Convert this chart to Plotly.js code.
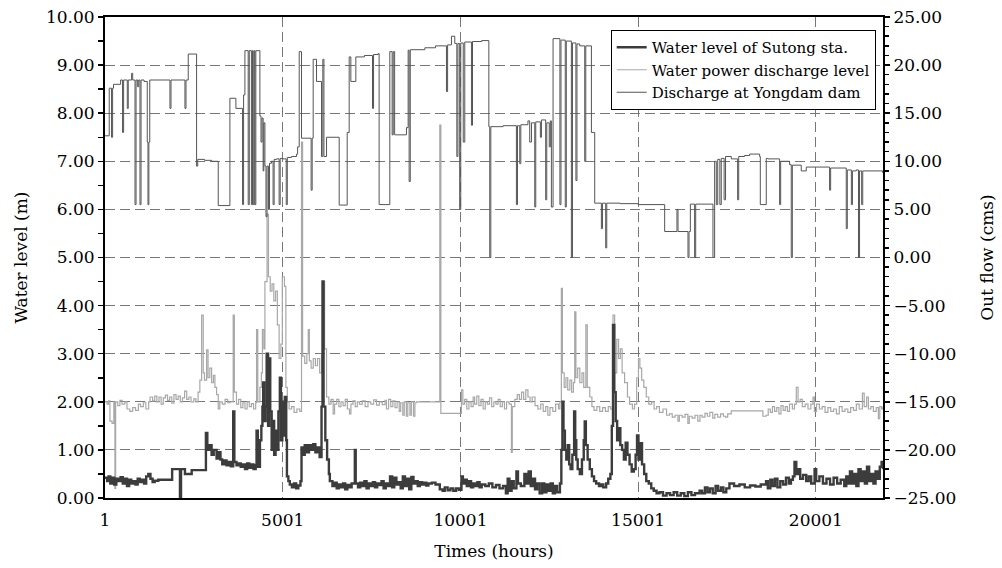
<!DOCTYPE html>
<html>
<head>
<meta charset="utf-8">
<script src="https://cdn.plot.ly/plotly-3.0.1.min.js"></script>
<style>html,body{margin:0;padding:0;background:#fff;}#chart{width:1002px;height:568px;}</style>
</head>
<body>
<div id="chart"></div>
<script>
// ---- Water level of Sutong sta. (m) ----
const hoursSutong = [1,60,100,150,200,260,320,380,440,500,560,620,680,740,800,860,920,980,1040,1100,1160,1220,1280,1340,1400,1500,1890,2110,2140,2250,2440,2812,2840,2880,2940,3000,3060,3140,3200,3250,3300,3360,3420,3480,3540,3608,3640,3700,3760,3820,3880,3940,4000,4060,4120,4180,4240,4265,4300,4360,4400,4430,4452,4480,4520,4550,4590,4620,4650,4690,4720,4760,4800,4840,4880,4920,4950,4990,5020,5060,5100,5120,5160,5200,5260,5320,5380,5440,5500,5530,5580,5620,5680,5740,5800,5860,5920,5980,6040,6093,6121,6150,6200,6250,6300,6327,6400,6460,6520,6580,6640,6700,6760,6820,6880,6940,7030,7055,7120,7180,7240,7300,7360,7420,7480,7540,7600,7660,7720,7780,7840,7900,7960,8020,8080,8140,8200,8260,8320,8380,8440,8500,8560,8620,8680,8740,8800,8860,8920,8980,9040,9100,9200,9300,9420,9500,9560,9640,9720,9800,9880,9960,10030,10070,10120,10180,10240,10300,10360,10420,10480,10540,10600,10700,10800,10900,11000,11100,11200,11280,11330,11380,11440,11500,11576,11620,11700,11800,11860,11920,11980,12040,12100,12160,12230,12300,12360,12420,12480,12540,12600,12660,12720,12800,12840,12870,12900,12940,12980,13020,13060,13100,13150,13200,13230,13260,13300,13360,13420,13470,13498,13530,13580,13640,13700,13760,13820,13900,13960,14020,14100,14160,14220,14260,14294,14330,14370,14410,14450,14500,14550,14600,14650,14700,14760,14820,14880,14930,14970,15010,15060,15110,15170,15230,15300,15370,15440,15520,15600,15700,15800,15900,16000,16100,16200,16300,16400,16500,16600,16730,16800,16880,16950,17020,17100,17180,17250,17330,17400,17480,17570,17700,17850,18000,18150,18300,18450,18600,18650,18720,18780,18850,18920,19000,19080,19160,19240,19300,19355,19400,19450,19500,19560,19640,19730,19800,19870,19965,20010,20100,20200,20300,20400,20500,20600,20700,20800,20856,20900,20960,21020,21080,21140,21200,21260,21320,21380,21440,21500,21560,21620,21680,21740,21800,21850,21890];
const levelSutong = [0.42,0.35,0.45,0.3,0.42,0.28,0.4,0.35,0.43,0.3,0.4,0.25,0.38,0.3,0.35,0.28,0.4,0.33,0.38,0.3,0.45,0.5,0.4,0.33,0.36,0.38,0.6,0.0,0.6,0.5,0.58,0.58,1.35,1.0,1.1,0.9,1.0,0.82,0.95,0.8,0.7,0.78,0.68,0.75,0.66,1.8,0.75,0.68,0.72,0.65,0.7,0.6,0.72,0.63,0.7,0.6,0.68,1.4,0.65,1.2,1.5,1.9,2.4,1.6,1.9,3.0,1.5,2.9,1.8,1.0,1.6,0.9,1.4,1.0,1.8,2.5,1.2,2.0,1.3,2.1,1.2,0.45,0.35,0.28,0.22,0.3,0.2,0.26,0.35,1.05,0.9,1.1,0.95,1.1,1.0,1.12,0.95,1.05,0.85,1.9,4.5,1.9,1.2,0.8,0.5,0.35,0.25,0.32,0.2,0.28,0.22,0.3,0.18,0.27,0.22,0.3,1.0,0.3,0.22,0.32,0.25,0.35,0.2,0.3,0.25,0.33,0.22,0.3,0.27,0.35,0.2,0.3,0.25,0.45,0.22,0.42,0.28,0.33,0.2,0.45,0.25,0.4,0.18,0.44,0.3,0.35,0.25,0.33,0.28,0.32,0.26,0.3,0.32,0.28,0.18,0.15,0.22,0.16,0.2,0.15,0.2,0.17,0.45,0.3,0.38,0.25,0.35,0.22,0.3,0.25,0.33,0.22,0.28,0.25,0.3,0.22,0.27,0.2,0.25,0.1,0.4,0.15,0.35,0.2,0.55,0.3,0.25,0.5,0.3,0.55,0.25,0.4,0.18,0.3,0.1,0.3,0.12,0.28,0.15,0.3,0.1,0.25,0.12,0.3,1.0,2.0,1.4,1.0,0.8,1.1,0.7,0.6,0.9,1.8,1.2,0.8,0.6,0.5,0.8,1.2,1.59,1.1,0.8,0.6,0.45,0.35,0.3,0.25,0.28,0.22,0.3,0.4,0.5,1.5,3.6,2.2,1.6,1.2,1.45,1.1,1.0,0.8,1.15,0.9,0.7,0.55,0.6,0.9,1.3,0.8,1.14,0.7,0.5,0.35,0.3,0.2,0.15,0.1,0.12,0.05,0.1,0.06,0.12,0.05,0.1,0.04,0.12,0.06,0.1,0.15,0.1,0.22,0.12,0.2,0.1,0.25,0.15,0.22,0.12,0.2,0.3,0.25,0.28,0.22,0.26,0.24,0.28,0.35,0.2,0.38,0.25,0.4,0.22,0.35,0.28,0.42,0.3,0.38,0.45,0.75,0.5,0.6,0.4,0.48,0.35,0.45,0.3,0.6,0.35,0.45,0.3,0.4,0.28,0.42,0.3,0.38,0.25,0.45,0.3,0.55,0.3,0.5,0.25,0.6,0.35,0.55,0.3,0.65,0.35,0.5,0.3,0.55,0.4,0.65,0.75,0.6];

// ---- Water power discharge level (m) ----
const hoursPower = [1,60,100,140,200,250,280,300,360,420,480,560,620,700,780,860,940,1000,1080,1150,1230,1270,1340,1400,1460,1520,1580,1640,1700,1760,1820,1880,1940,2000,2060,2120,2180,2240,2300,2360,2420,2500,2560,2620,2670,2720,2765,2800,2860,2900,2950,3000,3050,3093,3140,3187,3230,3300,3380,3450,3515,3608,3640,3700,3760,3820,3880,3940,4000,4060,4120,4180,4240,4265,4300,4359,4400,4430,4470,4500,4560,4600,4650,4700,4750,4800,4850,4900,4950,4990,5050,5090,5130,5180,5250,5320,5400,5480,5530,5560,5620,5680,5720,5750,5800,5860,5920,5980,6040,6093,6121,6180,6234,6300,6360,6420,6460,6520,6580,6640,6700,6760,6820,6880,6920,6980,7040,7100,7160,7240,7320,7400,7480,7560,7640,7720,7800,7880,7920,7980,8040,8100,8160,8220,8280,8320,8380,8420,8480,8520,8580,8620,8680,8720,8765,9420,9450,9982,10030,10070,10120,10180,10240,10300,10360,10400,10460,10520,10580,10640,10700,10760,10820,10880,10940,11000,11060,11120,11180,11240,11300,11370,11436,11460,11530,11600,11660,11720,11780,11840,11900,11960,12020,12100,12180,12260,12330,12400,12460,12520,12600,12680,12760,12800,12840,12870,12920,12970,13020,13080,13130,13180,13216,13250,13300,13360,13420,13470,13530,13570,13640,13700,13760,13840,13920,14000,14080,14160,14230,14294,14340,14400,14450,14500,14550,14620,14700,14760,14840,14900,14960,15010,15050,15100,15160,15230,15300,15380,15450,15520,15600,15700,15800,15880,15960,16040,16120,16160,16240,16320,16400,16440,16520,16600,16680,16740,16800,16880,16950,17020,17100,17160,17240,17320,17400,17460,17520,17620,18510,18600,18660,18720,18780,18840,18900,18960,19020,19080,19140,19200,19260,19340,19400,19450,19500,19560,19620,19700,19780,19860,19920,19960,20020,20100,20180,20260,20340,20420,20500,20580,20660,20740,20820,20900,20980,21060,21140,21220,21310,21360,21430,21480,21550,21620,21700,21760,21800,21850,21890];
const levelPower = [2.0,1.95,2.02,1.6,1.55,2.0,0.2,2.0,1.92,2.03,1.95,2.0,1.85,1.8,1.88,1.82,1.95,1.9,1.98,1.85,2.0,2.1,2.02,2.12,2.0,2.1,1.95,2.08,2.14,2.03,2.1,1.97,2.15,2.05,2.12,2.0,2.08,2.22,2.05,2.1,2.0,2.06,2.0,2.2,2.45,3.8,2.6,2.45,3.08,2.5,2.7,2.4,2.55,2.3,2.15,1.85,2.0,1.95,2.05,1.98,2.0,3.8,2.2,1.95,2.05,1.88,1.98,1.85,2.0,1.9,1.96,1.85,1.98,3.5,2.0,2.3,2.6,3.5,3.1,4.5,5.9,4.6,4.3,4.45,4.1,4.3,3.6,2.9,3.2,4.6,4.4,2.3,2.0,1.85,1.9,1.78,1.85,1.8,7.4,2.95,2.8,3.0,3.5,2.85,2.7,2.9,2.75,2.9,2.6,3.0,4.5,3.1,2.1,1.95,2.05,1.75,1.95,2.05,1.9,2.0,1.92,2.05,1.85,1.75,1.95,2.02,1.9,2.0,1.95,2.02,1.9,2.0,1.95,2.04,1.93,2.0,1.94,2.03,1.85,2.05,1.9,2.02,1.88,2.0,1.8,1.98,1.72,2.0,1.7,1.98,1.72,2.0,1.7,1.98,2.0,7.75,1.76,1.76,2.25,1.95,2.05,1.85,2.0,1.9,2.1,1.95,2.12,1.92,2.05,1.85,2.0,1.95,2.08,1.9,2.0,1.95,2.05,1.9,2.0,1.85,2.0,1.95,0.95,1.9,2.05,2.15,2.05,2.2,2.05,2.25,2.1,2.0,2.1,1.92,1.85,1.95,1.8,1.9,1.72,1.88,1.8,1.95,1.85,2.0,4.36,2.6,2.3,2.5,2.25,2.45,2.2,2.4,3.87,2.5,2.7,2.4,2.6,2.3,3.6,2.3,2.1,1.9,1.82,1.9,1.8,1.88,1.8,1.9,1.85,3.8,2.6,3.3,2.9,3.1,2.6,2.4,2.1,1.95,1.85,1.95,2.5,2.9,2.7,2.45,2.3,2.1,1.95,2.0,1.85,1.9,1.78,1.85,1.72,1.75,1.68,1.72,1.6,1.72,1.68,1.74,1.55,1.7,1.66,1.72,1.6,1.72,1.68,1.76,1.7,1.78,1.66,1.74,1.68,1.75,1.7,1.68,1.75,1.81,1.7,1.72,1.85,1.78,1.9,1.8,1.88,1.75,1.92,1.82,1.9,1.8,1.95,1.85,1.95,2.3,2.0,2.05,1.9,1.95,1.85,1.95,2.1,1.8,1.95,1.85,1.9,1.78,1.88,1.8,1.85,1.75,1.9,1.8,1.85,1.78,1.88,1.82,1.95,1.85,2.18,1.9,2.1,1.85,1.9,1.8,1.88,1.65,1.9,1.85,1.9];

// ---- Discharge at Yongdam dam (cms) ----
const hoursDam = [1,120,185,215,240,440,495,525,628,655,750,780,845,875,920,950,985,1015,1100,1190,1210,1235,1260,1828,1858,2250,2280,2343,2578,2610,2800,3000,3187,3515,3684,3871,3900,3937,4030,4060,4120,4150,4171,4200,4218,4245,4359,4390,4420,4450,4470,4500,4530,4560,4600,4630,4687,4730,4760,4828,4900,4930,5000,5100,5130,5250,5390,5420,5465,5530,5800,5830,5858,5952,6093,6130,6160,6234,6590,6815,6871,6918,7058,7300,7527,7557,7686,7714,8014,8080,8110,8150,8183,8483,8530,8558,8590,9000,9300,9608,9640,9748,9842,9900,9930,9980,10010,10080,10123,10311,10341,10600,10800,10826,10856,11200,11576,11606,11670,11700,11900,11950,12000,12092,12120,12250,12280,12400,12430,12500,12530,12560,12607,12800,12830,12950,12980,13123,13153,13250,13280,13357,13498,13528,13686,13779,13967,13997,14088,14118,14500,15000,15747,16093,16123,16403,16433,16470,16590,16620,17106,17153,17200,17240,17300,17340,17420,17460,17622,17800,17830,17997,18137,18419,18438,18606,18653,18981,19011,19262,19309,19339,19590,19731,20387,20417,20856,20886,21000,21030,21137,21200,21230,21290,21320,21880];
const flowDam = [12.65,17.6,12.5,17.6,18.0,18.45,13.0,18.45,15.5,18.45,19.15,18.45,5.5,18.45,17.75,18.45,5.5,18.45,18.3,12.0,5.5,12.0,18.45,15.5,18.45,15.5,18.45,21.15,9.5,10.2,10.1,10.0,5.4,16.55,15.5,5.5,16.9,21.5,5.5,21.5,5.5,21.5,5.5,21.5,5.5,21.5,14.7,12.0,14.5,9.0,14.0,9.5,4.25,9.5,5.0,9.8,10.0,5.5,10.2,10.25,5.5,10.3,10.25,5.5,10.4,10.5,10.75,11.5,21.4,12.4,7.0,12.4,20.6,18.3,10.5,20.6,10.5,12.5,5.45,13.0,20.85,18.3,20.85,21.0,15.5,21.1,21.2,5.5,21.4,12.75,21.4,12.75,12.75,13.5,21.55,7.9,21.6,21.8,22.0,17.25,22.1,23.0,22.25,10.5,22.25,5.0,22.3,12.0,22.4,13.75,22.45,22.55,13.6,0.0,13.6,13.7,5.5,13.7,9.75,13.8,14.2,12.0,14.0,5.25,14.1,12.5,14.3,6.0,14.0,11.5,14.2,5.25,22.75,5.5,22.6,5.25,22.5,0.0,22.3,8.0,22.2,22.0,10.0,22.0,13.0,5.65,3.0,5.65,1.0,5.65,5.6,5.5,2.7,5.0,2.7,0.0,2.7,5.55,0.0,5.55,0.0,10.0,5.5,10.2,5.5,10.3,6.0,10.5,10.25,6.0,10.5,10.6,10.75,10.5,5.5,10.3,10.25,5.5,10.0,9.65,0.0,9.6,9.0,9.4,7.0,9.3,3.0,9.1,5.5,9.0,9.1,0.0,9.0,5.5,9.0,8.8];

const xTicks = [1, 5001, 10001, 15001, 20001];
const seriesNames = ['Water level of Sutong sta.', 'Water power discharge level', 'Discharge at Yongdam dam'];

const serif = 'DejaVu Serif, Liberation Serif, serif';
const dashGrid = '10px,5px';

const traces = [
  {x: hoursPower, y: levelPower, name: seriesNames[1], type: 'scatter', mode: 'lines',
   line: {color: '#a8a8a8', width: 1.2, shape: 'hv'}, legendrank: 2, yaxis: 'y'},
  {x: hoursSutong, y: levelSutong, name: seriesNames[0], type: 'scatter', mode: 'lines',
   line: {color: '#3c3c3c', width: 2.4, shape: 'hv'}, legendrank: 1, yaxis: 'y'},
  {x: hoursDam, y: flowDam, name: seriesNames[2], type: 'scatter', mode: 'lines',
   line: {color: '#555555', width: 1, shape: 'hv'}, legendrank: 3, yaxis: 'y2'}
];

const layout = {
  width: 1002, height: 568,
  margin: {l: 105, r: 119, t: 17, b: 70},
  paper_bgcolor: '#fff', plot_bgcolor: '#fff',
  font: {family: serif, size: 17, color: '#000'},
  showlegend: true,
  legend: {x: 0.650, y: 0.973, xanchor: 'left', yanchor: 'top', bgcolor: '#fff',
           bordercolor: '#000', borderwidth: 1, font: {family: serif, size: 15, color: '#000'},
           itemwidth: 30, tracegroupgap: 0},
  xaxis: {range: [1, 21890], tickmode: 'array', tickvals: xTicks, ticktext: xTicks.map(String),
          showgrid: true, gridcolor: '#777', griddash: dashGrid, gridwidth: 1,
          showline: true, linecolor: '#000', linewidth: 2, mirror: true,
          ticks: 'outside', ticklen: 6, tickcolor: 'rgba(0,0,0,0)', zeroline: false,
          tickfont: {family: serif, size: 17},
          title: {text: 'Times (hours)', standoff: 16, font: {family: serif, size: 17}}},
  yaxis: {range: [0, 10], dtick: 1, tick0: 0, tickformat: '.2f',
          showgrid: true, gridcolor: '#777', griddash: dashGrid, gridwidth: 1,
          showline: true, linecolor: '#000', linewidth: 2, zeroline: false,
          ticks: 'outside', ticklen: 5, tickwidth: 1.5, tickcolor: '#000',
          tickfont: {family: serif, size: 17},
          minor: {dtick: 0.5, ticks: 'outside', ticklen: 5, tickwidth: 1.5, tickcolor: '#000', showgrid: false},
          title: {text: 'Water level (m)', standoff: 14, font: {family: serif, size: 17}}},
  yaxis2: {range: [-25, 25], dtick: 5, tick0: 0, tickformat: '.2f', overlaying: 'y', side: 'right',
           showgrid: false, zeroline: false, showline: true, linecolor: '#000', linewidth: 2,
           ticks: 'outside', ticklen: 5, tickwidth: 1.5, tickcolor: '#000',
           tickfont: {family: serif, size: 17},
           minor: {dtick: 1, ticks: 'outside', ticklen: 4, tickwidth: 1.5, tickcolor: '#000', showgrid: false},
           title: {text: 'Out flow (cms)', standoff: 26, font: {family: serif, size: 17}}}
};

Plotly.newPlot('chart', traces, layout, {displayModeBar: false, staticPlot: true});
</script>
</body>
</html>
